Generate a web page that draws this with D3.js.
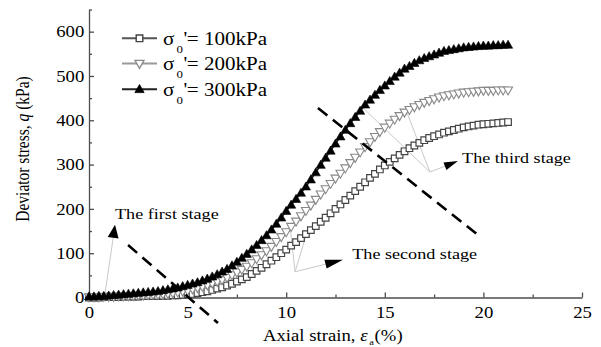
<!DOCTYPE html>
<html>
<head>
<meta charset="utf-8">
<script src="https://cdn.jsdelivr.net/npm/d3@7/dist/d3.min.js"></script>
<style>
  body { margin: 0; background: #fff; }
  svg { display: block; }
  text { font-family: "Liberation Serif", "Times New Roman", serif; fill: #000; }
</style>
</head>
<body>
<svg id="chart" width="601" height="347"></svg>
<script>
// Axial strain (%) at which each reading was taken
const strain = [
  0, 0.25, 0.5, 0.75, 1, 1.25, 1.5, 1.75, 2, 2.25, 2.5, 2.75,
  3, 3.25, 3.5, 3.75, 4, 4.25, 4.5, 4.75, 5, 5.25, 5.5, 5.75,
  6, 6.25, 6.5, 6.75, 7, 7.25, 7.5, 7.75, 8, 8.25, 8.5, 8.75,
  9, 9.25, 9.5, 9.75, 10, 10.25, 10.5, 10.75, 11, 11.25, 11.5, 11.75,
  12, 12.25, 12.5, 12.75, 13, 13.25, 13.5, 13.75, 14, 14.25, 14.5, 14.75,
  15, 15.25, 15.5, 15.75, 16, 16.25, 16.5, 16.75, 17, 17.25, 17.5, 17.75,
  18, 18.25, 18.5, 18.75, 19, 19.25, 19.5, 19.75, 20, 20.25, 20.5, 20.75,
  21, 21.25
];

// Deviator stress q (kPa) for each confining pressure
const q100 = [
  0, 0, 0, 1, 1, 1, 1, 2, 2, 2, 2, 3,
  3, 3, 3, 4, 4, 5, 5, 6, 7, 8, 10, 12,
  14, 17, 20, 23, 27, 31, 36, 41, 46, 53, 60, 67,
  75, 83, 91, 100, 108, 117, 125, 134, 143, 152, 161, 171,
  180, 190, 200, 210, 220, 230, 240, 250, 260, 270, 279, 289,
  298, 306, 314, 322, 330, 337, 343, 349, 355, 360, 364, 368,
  372, 375, 378, 381, 384, 386, 388, 390, 391, 392, 393, 394,
  395, 396
];
const q200 = [
  1, 1, 1, 2, 2, 2, 3, 3, 4, 4, 5, 5,
  6, 7, 7, 8, 9, 10, 12, 14, 16, 19, 22, 25,
  28, 32, 36, 40, 45, 51, 57, 63, 70, 78, 87, 96,
  105, 115, 126, 137, 148, 160, 172, 184, 196, 208, 221, 233,
  245, 257, 269, 280, 292, 304, 316, 328, 340, 351, 363, 374,
  384, 393, 402, 410, 418, 424, 430, 435, 440, 444, 448, 452,
  455, 457, 459, 461, 463, 464, 465, 466, 467, 467, 467, 468,
  468, 468
];
const q300 = [
  2, 2, 3, 3, 4, 5, 6, 7, 8, 9, 10, 11,
  12, 13, 14, 16, 18, 20, 22, 25, 28, 31, 34, 38,
  42, 47, 52, 58, 64, 72, 80, 89, 98, 108, 118, 129,
  140, 153, 166, 180, 195, 209, 222, 236, 250, 266, 282, 299,
  315, 331, 347, 363, 378, 393, 407, 421, 435, 446, 457, 468,
  478, 488, 498, 507, 516, 522, 529, 535, 540, 544, 548, 552,
  556, 558, 560, 562, 564, 565, 566, 567, 568, 568, 569, 569,
  570, 570
];

const pressures = ["100kPa", "200kPa", "300kPa"];
const xTicks = [0, 5, 10, 15, 20, 25];
const xMinorTicks = [2.5, 7.5, 12.5, 17.5, 22.5];
const yTicks = [0, 100, 200, 300, 400, 500, 600];
const yMinorTicks = [50, 150, 250, 350, 450, 550, 650];
const stageLabels = ["The first stage", "The second stage", "The third stage"];

// ---------------------------------------------------------------
const K = 1.17;              // lettering is set slightly wide
const FONT = '"Liberation Serif", "Times New Roman", serif';
const svg = d3.select("#chart");

const x = d3.scaleLinear().domain([0, 25]).range([89, 582]);
const y = d3.scaleLinear().domain([0, 650]).range([297.5, 9.5]);

const axisColor = "#4d4d4d";

function styleAxis(g) {
  g.attr("font-family", FONT).attr("font-size", 16);
  g.selectAll("path.domain").attr("stroke", axisColor).attr("stroke-width", 1.3);
  g.selectAll(".tick line").attr("stroke", axisColor).attr("stroke-width", 1.3);
  g.selectAll(".tick text").attr("fill", "#000").attr("transform", `scale(${K},1)`);
}

// x axis: ticks point up into the plot
svg.append("g")
  .attr("transform", `translate(0,${y(0)})`)
  .call(d3.axisBottom(x).tickValues(xMinorTicks).tickSize(-3).tickSizeOuter(0).tickFormat(""))
  .call(g => g.select("path.domain").remove())
  .call(styleAxis);
svg.append("g")
  .attr("transform", `translate(0,${y(0)})`)
  .call(d3.axisBottom(x).tickValues(xTicks).tickSize(-5).tickSizeOuter(0).tickPadding(9))
  .call(styleAxis);

// y axis: ticks point right into the plot
svg.append("g")
  .attr("transform", `translate(${x(0)},0)`)
  .call(d3.axisLeft(y).tickValues(yMinorTicks).tickSize(-3).tickSizeOuter(0).tickFormat(""))
  .call(g => g.select("path.domain").remove())
  .call(styleAxis);
svg.append("g")
  .attr("transform", `translate(${x(0)},0)`)
  .call(d3.axisLeft(y).tickValues(yTicks).tickSize(-5).tickSizeOuter(0).tickPadding(4))
  .call(styleAxis);

// axis titles
const xTitle = svg.append("g").attr("transform", `translate(263,341) scale(${K},1)`)
  .append("text").attr("font-size", 16);
xTitle.append("tspan").text("Axial strain,  ");
xTitle.append("tspan").attr("font-style", "italic").text("ε");
xTitle.append("tspan").attr("font-size", 9).attr("dx", 1.5).attr("dy", 4).text("a");
xTitle.append("tspan").attr("dx", 0.5).attr("dy", -4).text("(%)");

const yTitle = svg.append("g").attr("transform", `translate(29,149) rotate(-90) scale(1,${K})`)
  .append("text").attr("font-size", 15.5).attr("text-anchor", "middle");
yTitle.append("tspan").text("Deviator stress, ");
yTitle.append("tspan").attr("font-style", "italic").text("q");
yTitle.append("tspan").text(" (kPa)");

// ---------------------------------------------------------------
// annotation guides (drawn beneath the curves)
const guide = svg.append("g").attr("stroke", "#c9c9c9").attr("stroke-width", 1).attr("fill", "none");

function arrowHead(tip, from, len, half) {
  const dx = tip[0] - from[0], dy = tip[1] - from[1];
  const d = Math.hypot(dx, dy), ux = dx / d, uy = dy / d;
  const bx = tip[0] - ux * len, by = tip[1] - uy * len;
  return { base: [bx, by],
    path: `M${tip[0]},${tip[1]}L${bx - uy * half},${by + ux * half}L${bx + uy * half},${by - ux * half}Z` };
}

const stages = [
  { fan: [0.8, 5], targets: [], tip: [1.32, 164], len: 13, half: 5.5 },
  { fan: [10.45, 58], targets: [[10.2, 157], [11.04, 145]], tip: [12.88, 85], len: 18, half: 4.5 },
  { fan: [17.29, 283], targets: [[13.85, 430], [16.1, 420]], tip: [18.71, 308], len: 14, half: 4 }
];
const heads = [];
stages.forEach(s => {
  const f = [x(s.fan[0]), y(s.fan[1])];
  s.targets.forEach(t => guide.append("line")
    .attr("x1", f[0]).attr("y1", f[1]).attr("x2", x(t[0])).attr("y2", y(t[1])));
  const tip = [x(s.tip[0]), y(s.tip[1])];
  const h = arrowHead(tip, f, s.len, s.half);
  guide.append("line").attr("x1", f[0]).attr("y1", f[1]).attr("x2", h.base[0]).attr("y2", h.base[1]);
  heads.push(h.path);
});
svg.append("g").selectAll("path").data(heads).join("path")
  .attr("d", d => d).attr("fill", "#000");

// ---------------------------------------------------------------
// series
const markers = {
  square: "M-3.3,-3.3h6.6v6.6h-6.6Z",
  down: "M-4.5,-3.2L4.5,-3.2L0,4.8Z",
  up: "M0,-4.8L4.6,3.3L-4.6,3.3Z"
};
const series = [
  { name: pressures[0], values: q100, line: "#555", stroke: "#444", fill: "#fff", shape: markers.square, sw: 1.2 },
  { name: pressures[1], values: q200, line: "#999", stroke: "#888", fill: "#fff", shape: markers.down, sw: 1.1 },
  { name: pressures[2], values: q300, line: "#222", stroke: "#000", fill: "#000", shape: markers.up, sw: 0.6 }
];

const line = d3.line().x(d => x(d[0])).y(d => y(d[1]));
series.forEach(s => {
  const pts = strain.map((e, i) => [e, s.values[i]]);
  const g = svg.append("g");
  g.append("path").datum(pts).attr("d", line)
    .attr("fill", "none").attr("stroke", s.line).attr("stroke-width", 1.5);
  g.selectAll("path.m").data(pts).join("path").attr("class", "m")
    .attr("transform", d => `translate(${x(d[0])},${y(d[1])})`)
    .attr("d", s.shape).attr("fill", s.fill).attr("stroke", s.stroke).attr("stroke-width", s.sw);
});

// stage boundaries (dashed)
const bounds = [
  [[1.98, 118.5], [6.54, -57.5]],
  [[11.61, 427.7], [19.73, 141]]
];
svg.append("g").selectAll("line").data(bounds).join("line")
  .attr("x1", d => x(d[0][0])).attr("y1", d => y(d[0][1]))
  .attr("x2", d => x(d[1][0])).attr("y2", d => y(d[1][1]))
  .attr("stroke", "#000").attr("stroke-width", 2.6).attr("stroke-dasharray", "12,7");

// stage labels
const labelPos = [[1.32, 176.5], [13.35, 87], [18.92, 303]];
labelPos.forEach((p, i) => {
  svg.append("g").attr("transform", `translate(${x(p[0])},${y(p[1])}) scale(${K},1)`)
    .append("text").attr("font-size", 15.5).text(stageLabels[i]);
});

// ---------------------------------------------------------------
// legend
const legendRows = [38.3, 63.5, 89.3];
series.forEach((s, i) => {
  const cy = legendRows[i];
  const g = svg.append("g");
  g.append("line").attr("x1", 122).attr("x2", 157).attr("y1", cy).attr("y2", cy)
    .attr("stroke", s.line).attr("stroke-width", 2);
  g.append("path").attr("transform", `translate(139.5,${cy})`).attr("d", s.shape)
    .attr("fill", s.fill).attr("stroke", s.stroke).attr("stroke-width", s.sw + 0.2);
  const t = g.append("g").attr("transform", `translate(163,${cy + 6.4}) scale(${K},1)`)
    .append("text").attr("font-size", 18);
  t.append("tspan").attr("x", 0).attr("y", 0).text("σ");
  t.append("tspan").attr("x", 11.5).attr("y", 8).attr("font-size", 11).attr("fill", "#000").text("0");
  t.append("tspan").attr("x", 17.6).attr("y", 0).text("'");
  t.append("tspan").attr("x", 20.4).attr("y", 0).text("= " + s.name);
});
</script>
</body>
</html>
